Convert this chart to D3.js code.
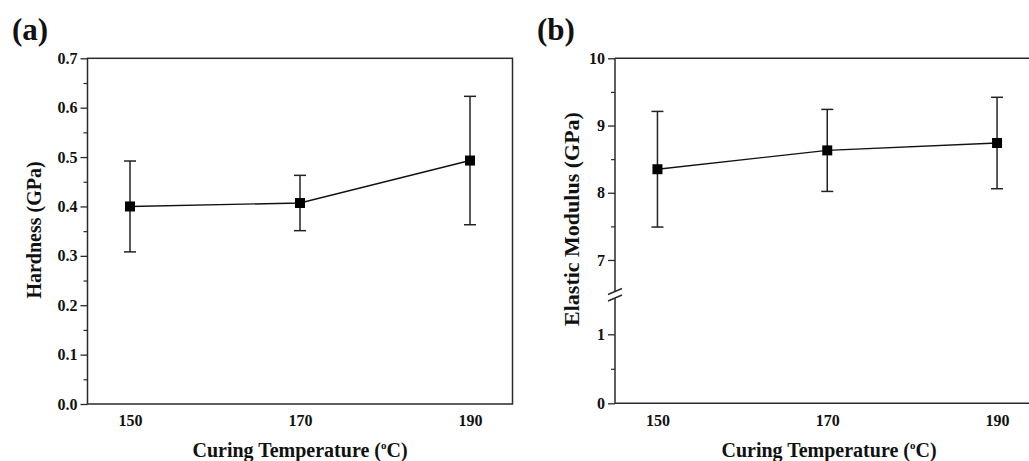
<!DOCTYPE html>
<html><head><meta charset="utf-8">
<script src="https://cdn.jsdelivr.net/npm/d3@7"></script>
<style>
body{margin:0;background:#fff;}
svg text{font-family:"Liberation Serif","Times New Roman",serif;font-weight:bold;fill:#111;}
</style></head>
<body><svg id="c" width="1029" height="461"></svg>
<script>
// ---- data ----
const temps = [150, 170, 190];
const hardness = [0.400, 0.407, 0.493];
const hardnessErr = [0.092, 0.056, 0.130];
const modulus = [8.35, 8.63, 8.74];
const modulusErr = [0.86, 0.61, 0.68];
const hardnessTicks = [0.0, 0.1, 0.2, 0.3, 0.4, 0.5, 0.6, 0.7];
const modulusTicksLow = [0, 1];
const modulusTicksHigh = [7, 8, 9, 10];
const xTicks = [150, 170, 190];

const svg = d3.select("#c");
const axisCol = "#2a2a2a";
const tickFont = "16px";

function xTitle(g, cx, cy) {
  const t = g.append("text").attr("x", cx).attr("y", cy).attr("text-anchor", "middle").style("font-size", "20px");
  t.append("tspan").text("Curing Temperature (");
  t.append("tspan").text("o").attr("dy", -8).style("font-size", "11px");
  t.append("tspan").text("C)").attr("dy", 8);
}

function styleLabels(sel) {
  sel.selectAll("text").style("font-size", tickFont).attr("fill", "#111")
    .style("font-family", "Liberation Serif").style("font-weight", "bold");
}

function drawSeries(g, x, y, vals, errs) {
  const pts = temps.map((t, i) => ({t, v: vals[i], e: errs[i]}));
  g.append("path").datum(pts)
    .attr("d", d3.line().x(d => x(d.t)).y(d => y(d.v)))
    .attr("fill", "none").attr("stroke", "#111").attr("stroke-width", 1.4);
  const eb = g.selectAll(".eb").data(pts).enter().append("g");
  eb.append("line").attr("x1", d => x(d.t)).attr("x2", d => x(d.t))
    .attr("y1", d => y(d.v + d.e)).attr("y2", d => y(d.v - d.e))
    .attr("stroke", "#222").attr("stroke-width", 1.5);
  [1, -1].forEach(s => {
    eb.append("line").attr("x1", d => x(d.t) - 6).attr("x2", d => x(d.t) + 6)
      .attr("y1", d => y(d.v + s * d.e)).attr("y2", d => y(d.v + s * d.e))
      .attr("stroke", "#222").attr("stroke-width", 1.5);
  });
  g.selectAll(".mk").data(pts).enter().append("rect")
    .attr("x", d => x(d.t) - 5).attr("y", d => y(d.v) - 5)
    .attr("width", 10).attr("height", 10).attr("fill", "#000");
}

// ---- Panel (a) ----
{
  const L = 87.5, R = 512.5, T = 58.3, B = 404;
  const x = d3.scaleLinear().domain([145, 195]).range([L, R]);
  const y = d3.scaleLinear().domain([0, 0.7]).range([B, T]);
  const g = svg.append("g");
  g.append("text").attr("x", 12).attr("y", 40).style("font-size", "31px").text("(a)");
  g.append("rect").attr("x", L).attr("y", T).attr("width", R - L).attr("height", B - T)
    .attr("fill", "none").attr("stroke", axisCol).attr("stroke-width", 1.5);
  const ya = d3.axisLeft(y).tickValues(hardnessTicks).tickFormat(d3.format(".1f")).tickSize(7).tickPadding(3);
  const yg = g.append("g").attr("transform", `translate(${L},0)`).call(ya);
  yg.select(".domain").remove();
  yg.selectAll("line").attr("stroke", axisCol).attr("stroke-width", 1.3);
  styleLabels(yg);
  const minor = d3.range(0.05, 0.7, 0.1);
  const ym = d3.axisLeft(y).tickValues(minor).tickSize(4).tickFormat("");
  const ymg = g.append("g").attr("transform", `translate(${L},0)`).call(ym);
  ymg.select(".domain").remove();
  ymg.selectAll("line").attr("stroke", axisCol).attr("stroke-width", 1.2);
  const xa = d3.axisBottom(x).tickValues(xTicks).tickSize(0).tickPadding(11);
  const xg = g.append("g").attr("transform", `translate(0,${B})`).call(xa);
  xg.select(".domain").remove();
  styleLabels(xg);
  xTitle(g, 300, 457);
  g.append("text").attr("transform", `translate(41,230) rotate(-90)`).attr("text-anchor", "middle")
    .style("font-size", "20px").text("Hardness (GPa)");
  drawSeries(g, x, y, hardness, hardnessErr);
}

// ---- Panel (b) ----
{
  const L = 615, R = 1039.5, T = 58.3, B = 403.3;
  const x = d3.scaleLinear().domain([145, 195]).range([L, R]);
  const yHigh = d3.scaleLinear().domain([6.5, 10]).range([293.6, T]);
  const yLow = d3.scaleLinear().domain([0, 1.5]).range([B, 299.8]);
  const g = svg.append("g");
  g.append("text").attr("x", 537).attr("y", 40).style("font-size", "31px").text("(b)");
  g.append("line").attr("x1", L).attr("x2", R).attr("y1", T).attr("y2", T).attr("stroke", axisCol).attr("stroke-width", 1.5);
  g.append("line").attr("x1", L).attr("x2", R).attr("y1", B).attr("y2", B).attr("stroke", axisCol).attr("stroke-width", 1.5);
  g.append("line").attr("x1", R).attr("x2", R).attr("y1", T).attr("y2", B).attr("stroke", axisCol).attr("stroke-width", 1.5);
  g.append("line").attr("x1", L).attr("x2", L).attr("y1", T).attr("y2", 291).attr("stroke", axisCol).attr("stroke-width", 1.5);
  g.append("line").attr("x1", L).attr("x2", L).attr("y1", 298).attr("y2", B).attr("stroke", axisCol).attr("stroke-width", 1.5);
  [291.5, 298].forEach(yy => {
    g.append("line").attr("x1", L - 7).attr("x2", L + 7).attr("y1", yy + 3).attr("y2", yy - 3)
      .attr("stroke", axisCol).attr("stroke-width", 1.4);
  });
  function yAxis(scale, ticks, minorTicks) {
    const a = d3.axisLeft(scale).tickValues(ticks).tickFormat(d3.format("d")).tickSize(7).tickPadding(3);
    const ag = g.append("g").attr("transform", `translate(${L},0)`).call(a);
    ag.select(".domain").remove();
    ag.selectAll("line").attr("stroke", axisCol).attr("stroke-width", 1.3);
    styleLabels(ag);
    const m = d3.axisLeft(scale).tickValues(minorTicks).tickSize(4).tickFormat("");
    const mg = g.append("g").attr("transform", `translate(${L},0)`).call(m);
    mg.select(".domain").remove();
    mg.selectAll("line").attr("stroke", axisCol).attr("stroke-width", 1.2);
  }
  yAxis(yHigh, modulusTicksHigh, [7.5, 8.5, 9.5]);
  yAxis(yLow, modulusTicksLow, [0.5]);
  const xa = d3.axisBottom(x).tickValues(xTicks).tickSize(0).tickPadding(11);
  const xg = g.append("g").attr("transform", `translate(0,${B})`).call(xa);
  xg.select(".domain").remove();
  styleLabels(xg);
  xTitle(g, 829, 457);
  g.append("text").attr("transform", `translate(579,219) rotate(-90)`).attr("text-anchor", "middle")
    .style("font-size", "22px").text("Elastic Modulus (GPa)");
  drawSeries(g, x, yHigh, modulus, modulusErr);
}
</script></body></html>
